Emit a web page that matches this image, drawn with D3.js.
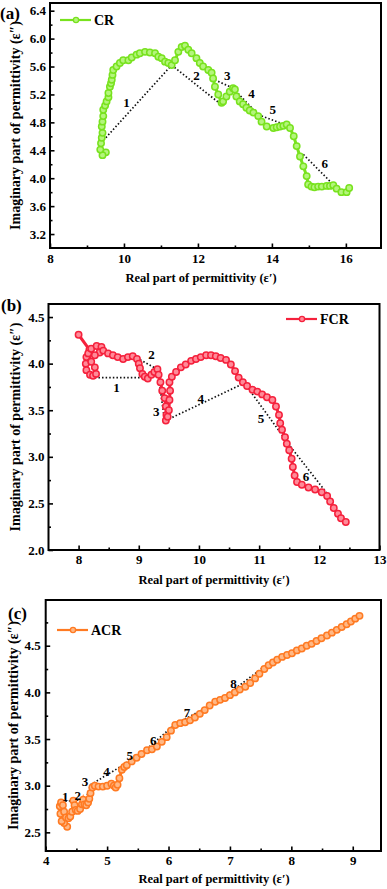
<!DOCTYPE html>
<html>
<head>
<meta charset="utf-8">
<script src="https://cdn.jsdelivr.net/npm/d3@7/dist/d3.min.js"></script>
<style>
  body { margin: 0; background: #fff; }
  text { font-family: "Liberation Serif", "Times New Roman", serif; font-weight: bold; fill: #000; }
</style>
</head>
<body>
<svg id="chart" width="387" height="889"></svg>
<script>
// ---- panel (a) CR ----
const crX = [9.51, 9.42, 9.36, 9.38, 9.40, 9.42, 9.40, 9.42, 9.44, 9.44, 9.49, 9.53, 9.58, 9.58, 9.62, 9.65, 9.67, 9.69, 9.71, 9.80,
  9.89, 9.98, 10.12, 10.21, 10.34, 10.43, 10.57, 10.70, 10.84, 10.93, 11.02, 11.11, 11.20, 11.29, 11.38, 11.47, 11.56, 11.65, 11.74, 11.83,
  11.96, 12.05, 12.14, 12.28, 12.37, 12.41, 12.46, 12.55, 12.64, 12.68, 12.77, 12.86, 12.95, 13.00, 13.04, 13.13, 13.22, 13.31, 13.40, 13.50,
  13.63, 13.72, 13.86, 14.04, 14.13, 14.22, 14.31, 14.40, 14.49, 14.59, 14.67, 14.76, 14.85, 14.94, 14.98, 15.07, 15.15, 15.25, 15.35, 15.48,
  15.57, 15.66, 15.75, 15.88, 16.02, 16.09];
const crY = [4.37, 4.33, 4.41, 4.50, 4.58, 4.65, 4.74, 4.81, 4.89, 4.98, 5.04, 5.10, 5.16, 5.22, 5.31, 5.36, 5.41, 5.48, 5.55, 5.60,
  5.65, 5.69, 5.69, 5.73, 5.77, 5.79, 5.81, 5.80, 5.79, 5.74, 5.72, 5.67, 5.65, 5.62, 5.69, 5.81, 5.88, 5.90, 5.84, 5.79,
  5.72, 5.65, 5.60, 5.55, 5.51, 5.43, 5.31, 5.20, 5.08, 5.10, 5.17, 5.24, 5.29, 5.27, 5.17, 5.10, 5.06, 5.01, 4.97, 4.94,
  4.89, 4.81, 4.74, 4.72, 4.73, 4.74, 4.75, 4.77, 4.72, 4.60, 4.46, 4.31, 4.17, 4.03, 3.91, 3.88, 3.87, 3.88, 3.88, 3.89,
  3.89, 3.90, 3.85, 3.80, 3.80, 3.86];
// dotted guide segments [x1, y1, x2, y2] and their numbers
const crSegs = [[9.51, 4.58, 11.29, 5.62], [11.29, 5.62, 12.64, 5.05], [12.37, 5.43, 12.95, 5.29],
  [12.95, 5.29, 13.63, 4.91], [13.63, 4.91, 14.44, 4.75], [14.85, 4.34, 15.75, 3.86]];
const crLabels = ["1", "2", "3", "4", "5", "6"];
const crLabelX = [10.07, 11.96, 12.79, 13.45, 14.02, 15.43];
const crLabelY = [5.08, 5.47, 5.47, 5.21, 4.98, 4.21];
const crXTicks = [8, 10, 12, 14, 16];
const crYTicks = [3.2, 3.6, 4.0, 4.4, 4.8, 5.2, 5.6, 6.0, 6.4];

// ---- panel (b) FCR ----
const fcrX = [8.00, 8.18, 8.13, 8.12, 8.13, 8.19, 8.24, 8.29, 8.27, 8.21, 8.16, 8.21, 8.30, 8.38, 8.35, 8.27, 8.41, 8.49, 8.57, 8.65,
  8.74, 8.82, 8.90, 8.97, 9.00, 9.02, 9.06, 9.10, 9.15, 9.21, 9.26, 9.31, 9.33, 9.36, 9.39, 9.43, 9.45, 9.46, 9.45, 9.48,
  9.50, 9.51, 9.52, 9.51, 9.55, 9.62, 9.70, 9.78, 9.87, 9.95, 10.03, 10.12, 10.20, 10.28, 10.36, 10.45, 10.53, 10.60, 10.66, 10.73,
  10.80, 10.89, 10.97, 11.05, 11.13, 11.22, 11.28, 11.33, 11.35, 11.38, 11.43, 11.46, 11.50, 11.54, 11.56, 11.59, 11.63, 11.71, 11.82, 11.93,
  12.04, 12.13, 12.18, 12.24, 12.31, 12.36, 12.44];
const fcrY = [4.31, 4.15, 4.07, 4.00, 3.93, 3.88, 3.87, 3.89, 3.96, 4.02, 4.11, 4.16, 4.19, 4.18, 4.12, 4.09, 4.14, 4.11, 4.09, 4.07,
  4.05, 4.07, 4.08, 4.05, 4.00, 3.95, 3.89, 3.86, 3.84, 3.88, 3.91, 3.94, 3.88, 3.80, 3.71, 3.63, 3.54, 3.45, 3.39, 3.43,
  3.50, 3.61, 3.71, 3.80, 3.86, 3.91, 3.96, 3.99, 4.03, 4.05, 4.07, 4.09, 4.09, 4.08, 4.06, 4.04, 3.99, 3.92, 3.85, 3.80,
  3.76, 3.72, 3.70, 3.67, 3.64, 3.61, 3.54, 3.45, 3.36, 3.29, 3.21, 3.14, 3.07, 2.98, 2.89, 2.80, 2.73, 2.70, 2.67, 2.65,
  2.62, 2.58, 2.52, 2.45, 2.39, 2.34, 2.30];
const fcrSegs = [[8.21, 3.85, 9.10, 3.85], [8.97, 4.06, 9.31, 3.94], [9.31, 3.94, 9.43, 3.39],
  [9.45, 3.39, 10.75, 3.79], [10.78, 3.77, 11.52, 3.11], [11.52, 3.11, 12.15, 2.59]];
const fcrLabels = ["1", "2", "3", "4", "5", "6"];
const fcrLabelX = [8.63, 9.21, 9.29, 10.03, 11.03, 11.78];
const fcrLabelY = [3.74, 4.10, 3.49, 3.63, 3.41, 2.79];
const fcrXTicks = [8, 9, 10, 11, 12, 13];
const fcrYTicks = [2.0, 2.5, 3.0, 3.5, 4.0, 4.5];

// ---- panel (c) ACR ----
const acrX = [4.35, 4.30, 4.26, 4.24, 4.23, 4.25, 4.28, 4.30, 4.33, 4.37, 4.40, 4.43, 4.45, 4.47, 4.49, 4.52, 4.56, 4.59, 4.61, 4.63,
  4.66, 4.69, 4.71, 4.73, 4.76, 4.80, 4.86, 4.93, 5.00, 5.07, 5.11, 5.14, 5.17, 5.20, 5.24, 5.28, 5.32, 5.40, 5.48, 5.56,
  5.65, 5.73, 5.81, 5.89, 5.97, 6.04, 6.11, 6.19, 6.27, 6.35, 6.43, 6.51, 6.59, 6.67, 6.76, 6.84, 6.92, 7.00, 7.08, 7.16,
  7.25, 7.33, 7.41, 7.48, 7.56, 7.63, 7.70, 7.77, 7.85, 7.93, 8.01, 8.09, 8.17, 8.25, 8.33, 8.41, 8.49, 8.58, 8.66, 8.74,
  8.82, 8.90, 8.97, 9.04, 9.11];
const acrY = [2.56, 2.60, 2.62, 2.70, 2.78, 2.82, 2.79, 2.72, 2.66, 2.65, 2.67, 2.72, 2.84, 2.79, 2.74, 2.73, 2.75, 2.80, 2.85, 2.80,
  2.79, 2.82, 2.86, 2.92, 2.98, 3.00, 2.99, 2.99, 3.00, 3.02, 3.00, 2.98, 3.01, 3.08, 3.17, 3.20, 3.22, 3.26, 3.30, 3.34,
  3.38, 3.39, 3.42, 3.47, 3.52, 3.59, 3.65, 3.67, 3.68, 3.70, 3.73, 3.77, 3.81, 3.86, 3.90, 3.92, 3.94, 3.97, 4.00, 4.03,
  4.06, 4.10, 4.15, 4.20, 4.25, 4.29, 4.32, 4.35, 4.38, 4.40, 4.42, 4.45, 4.47, 4.50, 4.52, 4.55, 4.58, 4.61, 4.64, 4.67,
  4.70, 4.73, 4.76, 4.79, 4.82];
const acrSegs = [[4.26, 2.83, 4.45, 2.84], [4.45, 2.84, 4.66, 2.86], [4.66, 2.86, 4.73, 3.01], [4.73, 3.01, 5.26, 3.22],
  [5.26, 3.22, 5.64, 3.39], [5.64, 3.39, 6.11, 3.66], [6.11, 3.66, 6.80, 3.90], [6.80, 3.90, 7.63, 4.31]];
const acrLabels = ["1", "2", "3", "4", "5", "6", "7", "8"];
const acrLabelX = [4.32, 4.52, 4.64, 4.99, 5.37, 5.75, 6.30, 7.06];
const acrLabelY = [2.88, 2.89, 3.05, 3.15, 3.32, 3.48, 3.78, 4.10];
const acrXTicks = [4, 5, 6, 7, 8, 9];
const acrYTicks = [2.5, 3.0, 3.5, 4.0, 4.5];

const xTitle = "Real part of permittivity (\u03b5\u2032)";
const yTitle = "Imaginary part of permittivity (\u03b5\u2033)";

const svg = d3.select("#chart");

function drawPanel(p) {
  const x = d3.scaleLinear().domain(p.xDomain).range([p.left, p.right]);
  const y = d3.scaleLinear().domain(p.yDomain).range([p.bottom, p.top]);
  const g = svg.append("g");

  // minor ticks (between the majors)
  const xStep = p.xTicks[1] - p.xTicks[0], yStep = p.yTicks[1] - p.yTicks[0];
  const xMinor = p.xTicks.map(t => t + xStep / 2).filter(t => t < p.xDomain[1]);
  const yMinor = p.yTicks.map(t => t + yStep / 2).filter(t => t < p.yDomain[1]);
  if (p.yTicks[0] - yStep / 2 > p.yDomain[0]) yMinor.push(p.yTicks[0] - yStep / 2);

  g.append("g").attr("transform", `translate(0,${p.bottom})`)
    .call(d3.axisBottom(x).tickValues(xMinor).tickSize(-2.5).tickFormat(""));
  g.append("g").attr("transform", `translate(${p.left},0)`)
    .call(d3.axisLeft(y).tickValues(yMinor).tickSize(-2.5).tickFormat(""));

  const xa = g.append("g").attr("transform", `translate(0,${p.bottom})`)
    .call(d3.axisBottom(x).tickValues(p.xTicks).tickSize(-4.5).tickPadding(p.xPad).tickFormat(d3.format("d")));
  const ya = g.append("g").attr("transform", `translate(${p.left},0)`)
    .call(d3.axisLeft(y).tickValues(p.yTicks).tickSize(-4.5).tickPadding(p.yPad).tickFormat(d3.format(".1f")));
  g.selectAll(".domain").remove();
  g.selectAll(".tick line").attr("stroke", "#000").attr("stroke-width", 1.6);
  [xa, ya].forEach(a => a.selectAll("text").style("font-size", "13px").attr("fill", "#000")
    .style("font-family", "'Liberation Serif', serif").style("font-weight", "bold"));

  // frame
  g.append("rect").attr("x", p.left).attr("y", p.top)
    .attr("width", p.right - p.left).attr("height", p.bottom - p.top)
    .attr("fill", "none").attr("stroke", "#000").attr("stroke-width", 2);

  // dotted guides
  g.selectAll(".seg").data(p.segs).enter().append("line")
    .attr("x1", d => x(d[0])).attr("y1", d => y(d[1]))
    .attr("x2", d => x(d[2])).attr("y2", d => y(d[3]))
    .attr("stroke", "#111").attr("stroke-width", 1.7).attr("stroke-dasharray", "1.5,2.1");

  // series
  const pts = p.xs.map((v, i) => [v, p.ys[i]]);
  g.append("path").datum(pts)
    .attr("d", d3.line().x(d => x(d[0])).y(d => y(d[1])))
    .attr("fill", "none").attr("stroke", p.color).attr("stroke-width", 3);
  g.selectAll(".pt").data(pts).enter().append("circle")
    .attr("cx", d => x(d[0])).attr("cy", d => y(d[1])).attr("r", 3.2)
    .attr("fill", p.fill).attr("stroke", p.color).attr("stroke-width", 1.5);

  // guide numbers
  g.selectAll(".num").data(p.labels).enter().append("text")
    .attr("x", (d, i) => x(p.labelX[i])).attr("y", (d, i) => y(p.labelY[i]))
    .attr("dy", "0.35em").attr("text-anchor", "middle")
    .style("font-size", "13px").text(d => d);

  // legend
  const L = p.legend;
  g.append("line").attr("x1", L.x).attr("x2", L.x + 31).attr("y1", L.y).attr("y2", L.y)
    .attr("stroke", p.color).attr("stroke-width", 2.2);
  g.append("circle").attr("cx", L.x + 16).attr("cy", L.y).attr("r", 2.6)
    .attr("fill", p.fill).attr("stroke", p.color).attr("stroke-width", 1.3);
  g.append("text").attr("x", L.x + 34).attr("y", L.y + 5).style("font-size", "14px").text(p.name);

  // titles
  g.append("text").attr("x", p.xTitleX).attr("y", p.xTitleY).attr("text-anchor", "middle")
    .style("font-size", "12.5px").text(xTitle);
  g.append("text").attr("transform", `translate(${p.yTitleX},${(p.top + p.bottom) / 2}) rotate(-90)`)
    .attr("text-anchor", "middle").attr("dy", "0.35em")
    .style("font-size", "14px").text(yTitle);
  g.append("text").attr("x", p.tagX).attr("y", p.tagY).style("font-size", "17px").text(p.tag);
}

drawPanel({
  tag: "(a)", tagX: 0, tagY: 19, name: "CR",
  left: 50, right: 381, top: 3, bottom: 248,
  xDomain: [8, 16.95], yDomain: [3.0, 6.51], xTicks: crXTicks, yTicks: crYTicks,
  xPad: 6, yPad: 4, xTitleX: 201, xTitleY: 282, yTitleX: 15,
  xs: crX, ys: crY, segs: crSegs, labels: crLabels, labelX: crLabelX, labelY: crLabelY,
  color: "#78e21e", fill: "#b4f57c", legend: { x: 60, y: 20 }
});

drawPanel({
  tag: "(b)", tagX: 1, tagY: 311, name: "FCR",
  left: 48.5, right: 379.5, top: 304, bottom: 550,
  xDomain: [7.5, 13], yDomain: [2.0, 4.64], xTicks: fcrXTicks, yTicks: fcrYTicks,
  xPad: 5, yPad: 4, xTitleX: 214, xTitleY: 584, yTitleX: 15,
  xs: fcrX, ys: fcrY, segs: fcrSegs, labels: fcrLabels, labelX: fcrLabelX, labelY: fcrLabelY,
  color: "#f5213c", fill: "#ff8a98", legend: { x: 286, y: 319 }
});

drawPanel({
  tag: "(c)", tagX: 8, tagY: 619, name: "ACR",
  left: 45.7, right: 381, top: 600, bottom: 851,
  xDomain: [4, 9.46], yDomain: [2.30, 4.99], xTicks: acrXTicks, yTicks: acrYTicks,
  xPad: 5, yPad: 5, xTitleX: 214, xTitleY: 883, yTitleX: 13,
  xs: acrX, ys: acrY, segs: acrSegs, labels: acrLabels, labelX: acrLabelX, labelY: acrLabelY,
  color: "#ff7a22", fill: "#ffb885", legend: { x: 57, y: 630 }
});
</script>
</body>
</html>
